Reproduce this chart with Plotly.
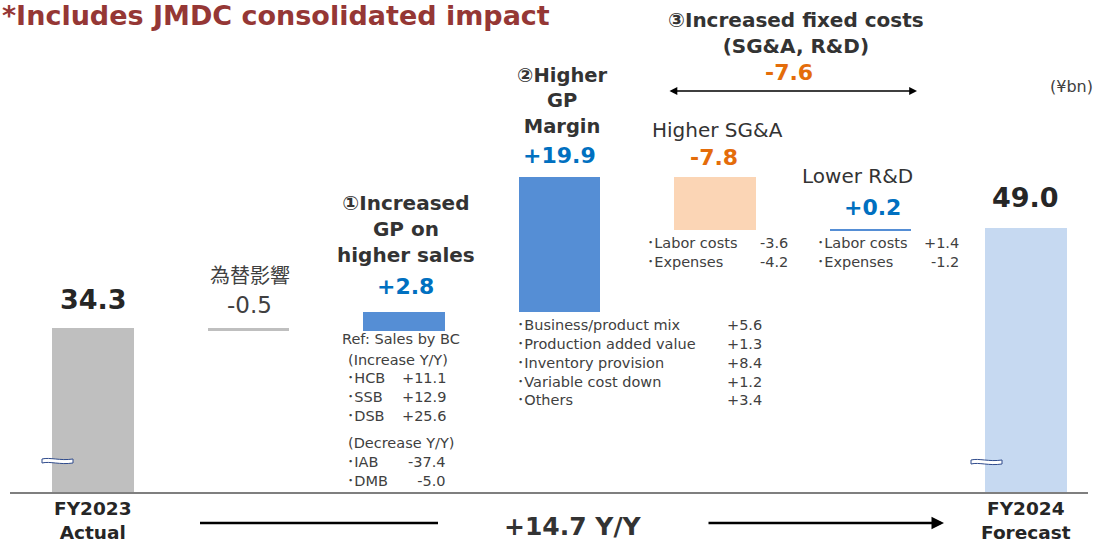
import plotly.graph_objects as go

# ---- data (¥bn) ----
categories = ["FY2023 Actual", "FX impact", "Increased GP on higher sales",
              "Higher GP margin", "Higher SG&A", "Lower R&D", "FY2024 Forecast"]
start_value = 34.3
changes = [-0.5, 2.8, 19.9, -7.8, 0.2]
end_value = 49.0
fixed_cost_total = -7.6
yoy_change = 14.7

gp_margin_items = ["Business/product mix", "Production added value", "Inventory provision",
                   "Variable cost down", "Others"]
gp_margin_values = [5.6, 1.3, 8.4, 1.2, 3.4]
sales_up_items = ["HCB", "SSB", "DSB"]
sales_up_values = [11.1, 12.9, 25.6]
sales_down_items = ["IAB", "DMB"]
sales_down_values = [-37.4, -5.0]
sga_items = ["Labor costs", "Expenses"]
sga_values = [-3.6, -4.2]
rnd_items = ["Labor costs", "Expenses"]
rnd_values = [1.4, -1.2]

# ---- waterfall bases ----
bases, heights = [0], [start_value]
running = start_value
for d in changes:
    bases.append(running)
    heights.append(d)
    running += d
bases.append(0)
heights.append(end_value)

colors = ["#BFBFBF", "#BFBFBF", "#558ED5", "#558ED5", "#FBD5B5", "#558ED5", "#C6D9F1"]

# ---- geometry ----
W, H = 1101, 544
ML, MR, MB, MT = 10, 13, 52, 0
PW, PH = W - ML - MR, H - MB - MT
STEP = 155.5          # px per category
PX_PER_UNIT = 6.8
Y0 = start_value - 164 / PX_PER_UNIT
x0 = -(93 - ML) / STEP

FONT = "DejaVu Sans, Noto Sans CJK JP, sans-serif"
DARK = "#333333"
GREY = "#404040"
BLUE = "#0070C0"
ORANGE = "#E46C0A"


def fx(p):
    return (p - ML) / PW


def fy(p):
    return (MT + PH - p) / PH


def fmt(v):
    return f"+{v:.1f}" if v > 0 else f"{v:.1f}"


fig = go.Figure(go.Bar(
    x=list(range(len(categories))),
    y=heights,
    base=bases,
    width=0.527,
    marker=dict(color=colors, line=dict(width=0)),
    hovertext=categories,
    showlegend=False,
))

anns = []


def note(text, px, py, size, color=DARK, bold=False, xanchor="center", align="center", font=FONT):
    if bold:
        text = "<br>".join(f"<b>{t}</b>" for t in text.split("<br>"))
    anns.append(dict(text=text, x=fx(px), y=fy(py), xref="paper", yref="paper",
                     xanchor=xanchor, yanchor="middle", align=align, showarrow=False,
                     font=dict(family=font, size=size, color=color)))


note("*Includes JMDC consolidated impact", 0, 15, 27, "#953735", True, xanchor="left")
note("(¥bn)", 1071, 86, 16, GREY)

# FY2023
note(f"{start_value:.1f}", 93, 299, 27, "#262626", True)
note("FY2023<br>Actual", 93, 520, 18.5, "#262626", True)
# FX
note("為替影響", 250, 274, 20, GREY, font="Noto Sans CJK JP")
note(fmt(changes[0]), 249, 305, 23, GREY)
# (1)
note("①Increased<br>GP on<br>higher sales", 406, 229, 20, DARK, True)
note(fmt(changes[1]), 405, 287, 22, BLUE, True)
note("Ref: Sales by BC", 340, 339, 14.5, GREY, xanchor="left", align="left")
note("(Increase Y/Y)", 346, 360, 14.5, GREY, xanchor="left", align="left")
note("<br>".join("･" + s for s in sales_up_items), 345, 397, 14.5, GREY, xanchor="left", align="left")
note("<br>".join(fmt(v) for v in sales_up_values), 448, 397, 14.5, GREY, xanchor="right", align="right")
note("(Decrease Y/Y)", 346, 443, 14.5, GREY, xanchor="left", align="left")
note("<br>".join("･" + s for s in sales_down_items), 345, 471, 14.5, GREY, xanchor="left", align="left")
note("<br>".join(fmt(v) for v in sales_down_values), 448, 471, 14.5, GREY, xanchor="right", align="right")
# (2)
note("②Higher<br>GP<br>Margin", 562, 101, 19.5, DARK, True)
note(fmt(changes[2]), 559, 155, 22, BLUE, True)
note("<br>".join("･" + s for s in gp_margin_items), 515, 362, 14.5, GREY, xanchor="left", align="left")
note("<br>".join(fmt(v) for v in gp_margin_values), 764, 362, 14.5, GREY, xanchor="right", align="right")
# (3)
note("③Increased fixed costs<br>(SG&A, R&D)", 796, 33, 20, DARK, True)
note(fmt(fixed_cost_total), 789, 72, 22, ORANGE, True)
note("Higher SG&A", 717, 130, 20, DARK)
note(fmt(changes[3]), 714, 157, 22, ORANGE, True)
note("<br>".join("･" + s for s in sga_items), 645, 252, 14.5, GREY, xanchor="left", align="left")
note("<br>".join(fmt(v) for v in sga_values), 790, 252, 14.5, GREY, xanchor="right", align="right")
note("Lower R&D", 857, 176, 20, DARK)
note(fmt(changes[4]), 872, 207, 22, BLUE, True)
note("<br>".join("･" + s for s in rnd_items), 815, 252, 14.5, GREY, xanchor="left", align="left")
note("<br>".join(fmt(v) for v in rnd_values), 961, 252, 14.5, GREY, xanchor="right", align="right")
# FY2024
note(f"{end_value:.1f}", 1025, 197, 27, "#262626", True)
note("FY2024<br>Forecast", 1026, 520, 18.5, "#262626", True)
# Y/Y
note(f"+{yoy_change:.1f} Y/Y", 573, 526, 25, DARK, True)

# arrows
anns.append(dict(x=fx(917), y=fy(91), xref="paper", yref="paper", ax=-(917 - 668), ay=0,
                 showarrow=True, arrowhead=2, arrowside="end+start", arrowsize=1.2,
                 arrowwidth=1.3, arrowcolor="black", text=""))
anns.append(dict(x=fx(944), y=fy(523), xref="paper", yref="paper", ax=-(944 - 707), ay=0,
                 showarrow=True, arrowhead=2, arrowsize=1.0, arrowwidth=2.5,
                 arrowcolor="black", text=""))

shapes = [dict(type="line", xref="paper", yref="paper", x0=fx(200), x1=fx(438),
               y0=fy(523), y1=fy(523), line=dict(color="black", width=2.5))]


def wave(xl, yc):
    xr = xl + 31
    pts = [(xl, yc - 2), (xl + 8, yc - 4), (xl + 18, yc + 0), (xr, yc - 2),
           (xr, yc + 2), (xl + 18, yc + 4), (xl + 8, yc + 0), (xl, yc + 2)]
    p = [(fx(a), fy(b)) for a, b in pts]
    return (f"M {p[0][0]},{p[0][1]} C {p[1][0]},{p[1][1]} {p[2][0]},{p[2][1]} {p[3][0]},{p[3][1]} "
            f"L {p[4][0]},{p[4][1]} C {p[5][0]},{p[5][1]} {p[6][0]},{p[6][1]} {p[7][0]},{p[7][1]} Z")


for xl, yc in [(42, 461), (971, 462)]:
    shapes.append(dict(type="path", xref="paper", yref="paper", path=wave(xl, yc),
                       fillcolor="white", line=dict(color="#2F4B8C", width=1)))

fig.update_layout(
    width=W, height=H,
    margin=dict(l=ML, r=MR, t=MT, b=MB, pad=0),
    plot_bgcolor="white", paper_bgcolor="white",
    bargap=0,
    xaxis=dict(range=[x0, x0 + PW / STEP], showticklabels=False, ticks="", showgrid=False,
               zeroline=False, showline=True, linecolor="#7F7F7F", linewidth=1.5, fixedrange=True),
    yaxis=dict(range=[Y0, Y0 + PH / PX_PER_UNIT], visible=False, showgrid=False, fixedrange=True),
    annotations=anns,
    shapes=shapes,
)

fig.write_html("out.html", config={"displayModeBar": False},
               post_script="document.body.style.margin='0';document.body.style.overflow='hidden';")
